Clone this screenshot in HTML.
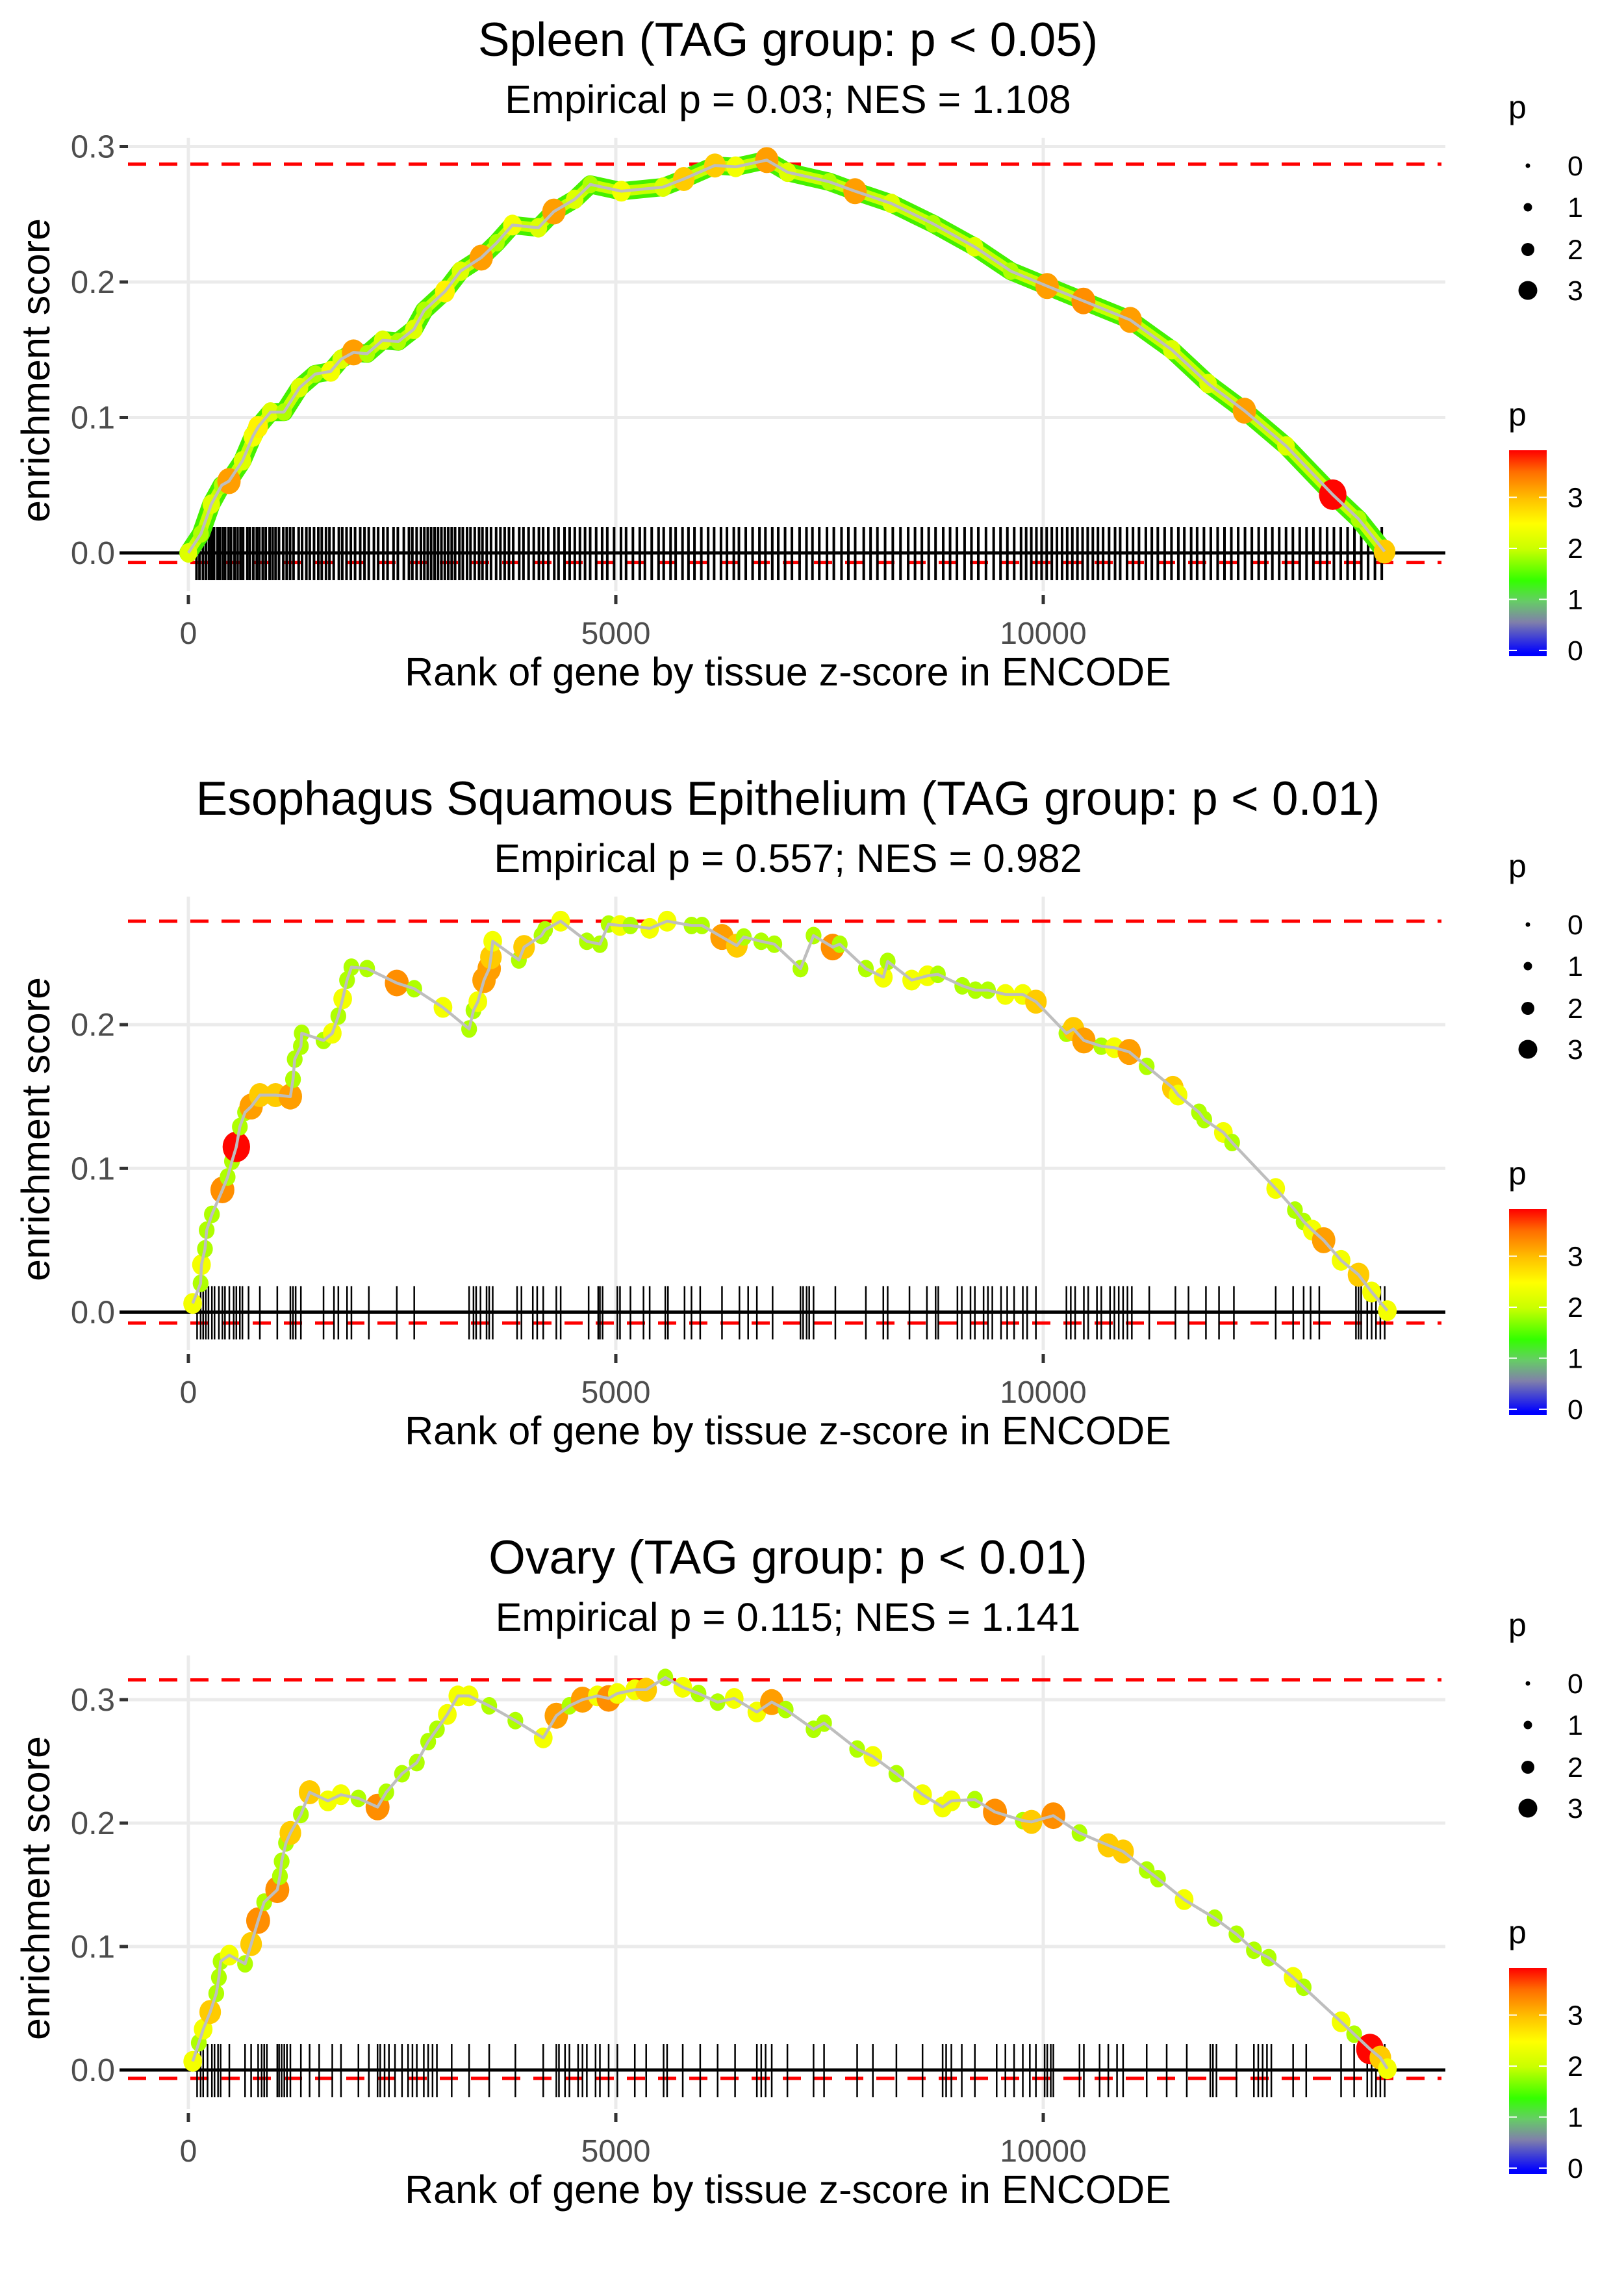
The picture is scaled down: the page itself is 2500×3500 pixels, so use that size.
<!DOCTYPE html>
<html><head><meta charset="utf-8">
<style>
html,body{margin:0;padding:0;background:#fff;}
svg{display:block;font-family:"Liberation Sans",sans-serif;}
</style></head>
<body>
<svg id="chart" xmlns="http://www.w3.org/2000/svg" width="2500" height="3500" viewBox="0 0 2500 3500"></svg>
<script>
// ---------- DATA ----------
const xTickValues = [0, 5000, 10000];
const xTickLabels = ["0", "5000", "10000"];
const titles = ["Spleen (TAG group: p < 0.05)", "Esophagus Squamous Epithelium (TAG group: p < 0.01)", "Ovary (TAG group: p < 0.01)"];
const subtitles = ["Empirical p = 0.03; NES = 1.108", "Empirical p = 0.557; NES = 0.982", "Empirical p = 0.115; NES = 1.141"];
const yTicks1 = [0, 0.1, 0.2, 0.3];
const yTicks2 = [0, 0.1, 0.2];
const yTicks3 = [0, 0.1, 0.2, 0.3];
const yTickLabels1 = ["0.0", "0.1", "0.2", "0.3"];
const yTickLabels2 = ["0.0", "0.1", "0.2"];
const yTickLabels3 = ["0.0", "0.1", "0.2", "0.3"];
const maxES = [0.287, 0.272, 0.316];
const minES = [-0.007, -0.0076, -0.0068];
const sizeLegendValues = [0, 1, 2, 3];
const colorLegendValues = [0, 1, 2, 3];

const p1Rank = [0,147,268,390,475,633,754,815,961,1118,1300,1483,1665,1787,1932,2090,2273,2455,2637,2758,3001,3183,3426,3608,3791,4094,4276,4519,4702,5065,5552,5795,6159,6402,6766,7009,7495,7798,8223,8709,9195,9620,10045,10470,11017,11503,11928,12353,12839,13386,13689,13993];
const p1ES = [0,0.014,0.036,0.050,0.053,0.068,0.086,0.093,0.104,0.104,0.122,0.132,0.134,0.143,0.148,0.147,0.157,0.156,0.165,0.179,0.193,0.208,0.218,0.229,0.242,0.240,0.252,0.261,0.272,0.267,0.270,0.276,0.286,0.285,0.290,0.281,0.274,0.267,0.258,0.243,0.226,0.208,0.197,0.186,0.172,0.150,0.125,0.105,0.079,0.043,0.025,0.001];
const p1P = [2.2,1.9,2.2,1.9,3.2,2.2,2.4,2.6,2.2,1.9,2.2,1.9,2.4,2.2,3.2,1.9,2.2,1.9,2.2,1.9,2.6,2.2,3.2,1.9,2.4,2.2,3.2,2.2,1.9,2.4,2.2,2.9,2.9,2.4,3.2,2.2,1.9,3.2,2.2,1.9,2.2,1.9,3.2,3.3,3.2,2.2,2.2,3.2,2.2,3.9,1.9,2.9];
const p1Rug = [95,130,170,205,240,270,300,340,365,400,430,470,500,540,575,610,640,690,720,760,800,830,870,905,950,985,1020,1060,1110,1150,1190,1230,1290,1330,1380,1420,1470,1520,1560,1610,1650,1700,1760,1800,1850,1900,1950,2010,2060,2110,2170,2220,2280,2330,2400,2450,2520,2580,2620,2670,2720,2760,2800,2840,2880,2920,2960,3000,3040,3080,3120,3170,3210,3260,3300,3350,3400,3440,3490,3540,3600,3650,3700,3750,3800,3870,3920,3980,4040,4100,4150,4210,4280,4330,4400,4460,4520,4580,4640,4700,4770,4840,4900,4980,5060,5120,5200,5280,5340,5420,5500,5560,5640,5700,5780,5850,5920,6000,6080,6150,6230,6300,6380,6440,6520,6600,6680,6750,6830,6900,6980,7060,7150,7230,7300,7380,7470,7550,7640,7720,7800,7900,7980,8060,8150,8240,8330,8420,8500,8580,8660,8740,8830,8910,8990,9080,9160,9240,9330,9420,9500,9580,9660,9740,9800,9860,9920,9980,10040,10100,10160,10220,10280,10340,10400,10460,10520,10580,10640,10700,10770,10840,10900,10980,11050,11120,11200,11270,11340,11420,11500,11580,11650,11730,11800,11880,11960,12040,12120,12200,12280,12360,12440,12520,12600,12680,12760,12840,12920,13000,13080,13160,13240,13320,13400,13480,13560,13640,13720,13800,13880,13960];

const p2Rank = [50,143,153,194,214,275,398,459,510,561,602,663,734,836,1020,1193,1224,1244,1316,1326,1581,1683,1754,1805,1856,1907,2091,2438,2642,2978,3284,3335,3386,3458,3519,3539,3560,3866,3927,4131,4172,4355,4661,4814,4916,5049,5171,5396,5600,5886,6008,6242,6416,6497,6701,6854,7160,7313,7537,7619,7925,8129,8180,8461,8645,8767,9053,9206,9353,9557,9761,9914,10271,10353,10475,10679,10832,11006,11210,11516,11577,11822,11883,12107,12209,12719,12944,13046,13148,13280,13484,13688,13841,14025];
const p2ES = [0.006,0.020,0.033,0.044,0.057,0.068,0.085,0.094,0.105,0.115,0.129,0.139,0.143,0.151,0.151,0.150,0.162,0.176,0.185,0.194,0.189,0.194,0.206,0.218,0.231,0.240,0.239,0.229,0.225,0.212,0.197,0.210,0.216,0.231,0.239,0.247,0.258,0.245,0.254,0.262,0.266,0.272,0.258,0.256,0.270,0.269,0.269,0.267,0.272,0.269,0.269,0.261,0.255,0.261,0.258,0.256,0.239,0.262,0.254,0.256,0.239,0.233,0.244,0.231,0.234,0.235,0.227,0.224,0.224,0.221,0.221,0.216,0.194,0.197,0.189,0.185,0.184,0.181,0.171,0.156,0.151,0.139,0.134,0.125,0.118,0.086,0.071,0.063,0.057,0.050,0.036,0.026,0.014,0.001];
const p2P = [2.4,1.9,2.4,1.9,1.9,1.9,3.3,1.9,1.9,3.9,1.9,1.9,3.2,2.9,2.9,3.2,1.9,1.9,1.9,1.9,1.9,2.4,1.9,2.4,1.9,1.9,1.9,3.3,1.9,2.4,1.9,1.9,2.4,3.2,3.2,2.9,2.4,1.9,2.9,1.9,1.9,2.4,1.9,1.9,1.9,2.4,1.9,2.4,2.4,1.9,1.9,3.2,2.9,1.9,1.9,1.9,1.9,1.9,3.3,1.9,1.9,2.4,1.9,2.4,2.4,1.9,1.9,1.9,1.9,2.4,2.4,2.9,1.9,2.9,3.2,1.9,2.4,3.2,1.9,2.9,2.4,1.9,1.9,2.4,1.9,2.4,1.9,1.9,2.4,3.2,2.4,2.9,2.4,2.4];
const p2Rug = [102,143,173,204,235,275,306,357,398,428,479,530,561,602,632,704,836,1040,1193,1224,1255,1316,1581,1703,1754,1856,1907,2111,2438,2642,3284,3335,3366,3417,3488,3519,3560,3845,3896,4029,4080,4151,4304,4355,4682,4794,4814,4845,5018,5049,5171,5324,5396,5579,5610,5804,5885,5987,6242,6446,6548,6650,6834,7160,7191,7232,7262,7313,7568,7925,8129,8180,8435,8639,8741,8772,8996,9047,9149,9200,9302,9353,9404,9506,9578,9659,9761,9812,9914,10271,10322,10373,10475,10526,10628,10679,10781,10832,10883,10934,10985,11036,11240,11546,11699,11903,12056,12230,12719,12923,13046,13127,13229,13658,13688,13719,13790,13841,13892,13943,13994];

const p3Rank = [51,122,173,255,326,357,377,479,663,734,816,887,1040,1071,1091,1142,1193,1316,1418,1632,1785,1989,2213,2315,2499,2672,2805,2907,3029,3152,3284,3519,3825,4151,4304,4457,4610,4784,4916,5018,5222,5355,5579,5783,5967,6191,6385,6650,6824,6987,7313,7436,7823,8007,8282,8588,8823,8925,9200,9435,9761,9863,10118,10424,10761,10934,11210,11342,11648,12005,12260,12464,12637,12923,13046,13484,13637,13821,13943,14025];
const p3ES = [0.007,0.022,0.033,0.047,0.062,0.075,0.088,0.093,0.086,0.102,0.121,0.136,0.146,0.157,0.169,0.184,0.192,0.207,0.225,0.218,0.223,0.220,0.213,0.225,0.240,0.249,0.266,0.276,0.288,0.303,0.303,0.295,0.283,0.269,0.287,0.295,0.300,0.303,0.301,0.305,0.308,0.308,0.318,0.310,0.305,0.298,0.301,0.290,0.298,0.292,0.276,0.281,0.260,0.254,0.240,0.223,0.213,0.218,0.219,0.209,0.202,0.201,0.206,0.192,0.182,0.177,0.162,0.155,0.138,0.123,0.110,0.097,0.091,0.075,0.067,0.039,0.029,0.017,0.010,0.001];
const p3P = [2.4,1.9,2.4,2.9,1.9,1.9,1.9,2.4,1.9,2.9,3.3,1.9,3.3,1.9,1.9,1.9,2.9,1.9,2.9,2.4,2.4,1.9,3.3,1.9,1.9,1.9,1.9,1.9,2.4,2.4,2.4,1.9,1.9,2.4,3.2,1.9,3.2,2.4,3.3,2.4,2.4,2.9,1.9,2.4,1.9,1.9,2.4,2.4,3.2,1.9,1.9,1.9,1.9,2.4,1.9,2.4,2.4,2.4,1.9,3.3,1.9,2.9,3.3,1.9,2.9,2.9,1.9,1.9,2.4,1.9,1.9,1.9,1.9,2.4,1.9,2.4,1.9,3.9,2.9,2.4];
const p3Rug = [102,143,173,224,275,306,347,377,479,663,734,816,857,887,918,1040,1061,1091,1122,1153,1193,1316,1418,1530,1683,1785,1989,2111,2213,2244,2295,2346,2417,2499,2570,2621,2672,2754,2805,2856,2907,3080,3284,3519,3825,4151,4304,4335,4406,4457,4559,4610,4661,4763,4814,4916,5018,5222,5355,5559,5600,5783,5987,6191,6395,6650,6701,6752,6824,7007,7313,7436,7823,8007,8282,8588,8823,8864,8925,9047,9200,9455,9557,9659,9761,9843,9914,10016,10047,10088,10118,10424,10475,10659,10761,10863,10934,11210,11444,11679,11954,11985,12026,12260,12464,12515,12566,12617,12668,12923,13076,13484,13637,13790,13841,13892,13943,13994];

// ---------- LAYOUT ----------
const NS = "http://www.w3.org/2000/svg";
const svg = document.getElementById("chart");
const panels = [
  {off:0, zero:851, unit:2085, ranks:p1Rank, es:p1ES, p:p1P, rug:p1Rug, rugW:4, yt:yTicks1, ytl:yTickLabels1, band:true},
  {off:1168, zero:2019.5-1168, unit:2212, ranks:p2Rank, es:p2ES, p:p2P, rug:p2Rug, rugW:2.5, yt:yTicks2, ytl:yTickLabels2, band:false},
  {off:2336, zero:3186-2336, unit:1900, ranks:p3Rank, es:p3ES, p:p3P, rug:p3Rug, rugW:2.5, yt:yTicks3, ytl:yTickLabels3, band:false}
];
const PL = 197, PR = 2225, PT = 212, PB = 910;
const CX = 1213;
function xs(r){ return 290 + r*0.1316; }

function el(tag, attrs, parent){
  const e = document.createElementNS(NS, tag);
  for (const k in attrs) e.setAttribute(k, attrs[k]);
  (parent||svg).appendChild(e);
  return e;
}
const stops = [[0,[0,0,255]],[0.6,[128,128,170]],[1.0,[102,204,102]],[1.4,[51,255,0]],[2.0,[200,255,0]],[2.5,[255,255,0]],[3.0,[255,190,0]],[3.5,[255,110,0]],[3.92,[255,0,0]]];
function colorFor(v){
  for (let i=1;i<stops.length;i++){
    if (v<=stops[i][0]){
      const a=stops[i-1], b=stops[i], t=(v-a[0])/(b[0]-a[0]);
      const c=a[1].map((x,j)=>Math.round(x+(b[1][j]-x)*t));
      return "rgb("+c.join(",")+")";
    }
  }
  return "rgb(255,0,0)";
}
function sizeFor(v){ return 4 + 5*v; }

const defs = el("defs", {});
const lg = el("linearGradient", {id:"pgrad", x1:"0", y1:"1", x2:"0", y2:"0"}, defs);
stops.forEach(s=>{ el("stop", {offset:((s[0]+0.06)/3.98*100)+"%", "stop-color":colorFor(s[0])}, lg); });

panels.forEach((P, k) => {
  const g = el("g", {transform:"translate(0," + P.off + ")"});
  
  
  const ys = v => P.zero - v*P.unit;

  const t = el("text", {x:CX, y:86, "text-anchor":"middle", "font-size":73, fill:"#000"}, g);
  t.textContent = titles[k];
  
  
  const st = el("text", {x:CX, y:174, "text-anchor":"middle", "font-size":61, fill:"#000"}, g);
  st.textContent = subtitles[k];
  
  

  P.yt.forEach((v,i) => {
    const gl = el("line", {x1:PL, x2:PR, y1:ys(v), y2:ys(v), stroke:"#ebebeb", "stroke-width":5}, g);
    
    
    const tk = el("line", {x1:184, x2:197, y1:ys(v), y2:ys(v), stroke:"#333", "stroke-width":5}, g);
    
    
    const tl = el("text", {x:177, y:ys(v)+17, "text-anchor":"end", "font-size":49, fill:"#4d4d4d"}, g);
    tl.textContent = P.ytl[i];
    
    
  });
  xTickValues.forEach((v,i) => {
    const gl = el("line", {x1:xs(v), x2:xs(v), y1:PT, y2:PB, stroke:"#ebebeb", "stroke-width":5}, g);
    
    
    const tk = el("line", {x1:xs(v), x2:xs(v), y1:916, y2:930, stroke:"#333", "stroke-width":5}, g);
    
    
    const tl = el("text", {x:xs(v), y:991, "text-anchor":"middle", "font-size":48, fill:"#4d4d4d"}, g);
    tl.textContent = xTickLabels[i];
    
    
  });

  const xt = el("text", {x:CX, y:1055, "text-anchor":"middle", "font-size":61, fill:"#000"}, g);
  xt.textContent = "Rank of gene by tissue z-score in ENCODE";
  
  
  const yt = el("text", {x:0, y:0, "text-anchor":"middle", "font-size":61, fill:"#000", transform:"translate(76,570) rotate(-90)"}, g);
  yt.textContent = "enrichment score";
  
  

  [maxES[k], minES[k]].forEach((v,i) => {
    const rl = el("line", {x1:PL, x2:PR-6, y1:ys(v), y2:ys(v), stroke:"#ff0000", "stroke-width":5, "stroke-dasharray":"28 20"}, g);
    
    
  });

  const rugG = el("g", {}, g);
  
  
  P.rug.forEach(r => {
    const rl = el("line", {x1:xs(r), x2:xs(r), y1:P.zero-40, y2:P.zero+42, stroke:"#000", "stroke-width":P.rugW}, rugG);
    
    
  });
  const zl = el("line", {x1:184, x2:PR, y1:P.zero, y2:P.zero, stroke:"#000", "stroke-width":5}, g);
  
  

  const pts = P.ranks.map((r,i) => xs(r).toFixed(1) + "," + ys(P.es[i]).toFixed(1)).join(" ");
  if (P.band){
    const b1 = el("polyline", {points:pts, fill:"none", stroke:"#44f000", "stroke-width":28, "stroke-linejoin":"round", "stroke-linecap":"round"}, g);
    
    
    const b2 = el("polyline", {points:pts, fill:"none", stroke:"#c8ff00", "stroke-width":16, "stroke-linejoin":"round"}, g);
    
    
  }
  P.ranks.forEach((r,i) => {
    const c = el("ellipse", {cx:xs(r), cy:ys(P.es[i]), rx:sizeFor(P.p[i])*0.9, ry:sizeFor(P.p[i]), fill:colorFor(P.p[i])}, g);
    
    
  });
  const ln = el("polyline", {points:pts, fill:"none", stroke:"#bebebe", "stroke-width":4.5, "stroke-linejoin":"round"}, g);
  
  

  const sl = el("g", {}, g);
  
  
  const slt = el("text", {x:2322, y:182, "font-size":50, fill:"#000"}, sl);
  slt.textContent = "p";
  
  
  const sy = [255,319,384,447];
  const sd = [3.5,6.5,10,14.5];
  sizeLegendValues.forEach((v,i) => {
    const d = el("circle", {cx:2352, cy:sy[i], r:sd[i], fill:"#000"}, sl);
    
    
    const lt = el("text", {x:2413, y:sy[i]+15, "font-size":43, fill:"#000"}, sl);
    lt.textContent = String(v);
    
    
  });
  const cl = el("g", {}, g);
  
  
  const clt = el("text", {x:2322, y:655, "font-size":50, fill:"#000"}, cl);
  clt.textContent = "p";
  
  
  const bar = el("rect", {x:2323, y:693, width:58, height:317, fill:"url(#pgrad)"}, cl);
  
  
  colorLegendValues.forEach(v => {
    const yy = 1001 - v*78.5;
    const t1 = el("line", {x1:2323, x2:2335, y1:yy, y2:yy, stroke:"#fff", "stroke-width":2}, cl);
    
    
    const t2 = el("line", {x1:2369, x2:2381, y1:yy, y2:yy, stroke:"#fff", "stroke-width":2}, cl);
    
    
    const lt = el("text", {x:2413, y:yy+15, "font-size":43, fill:"#000"}, cl);
    lt.textContent = String(v);
    
    
  });
});
</script>
</body></html>
